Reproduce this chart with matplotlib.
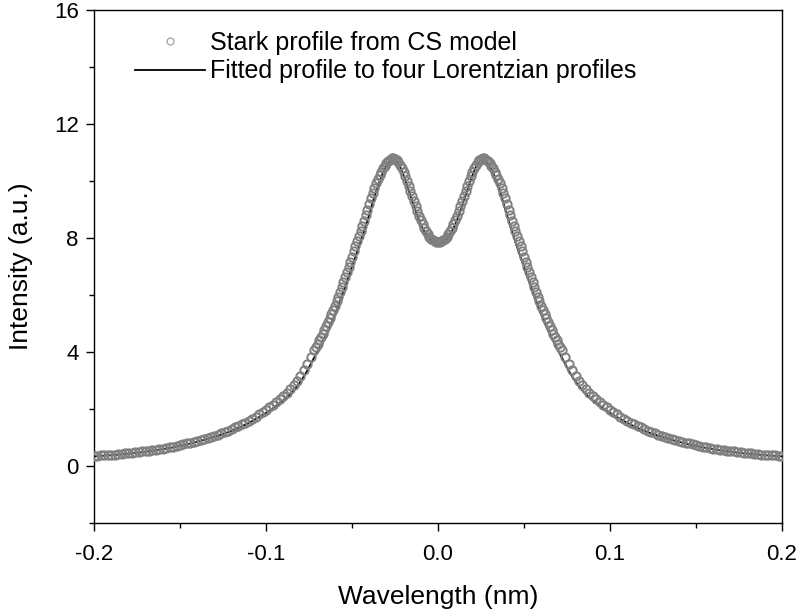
import numpy as np
import matplotlib
matplotlib.use("Agg")
import matplotlib.pyplot as plt
from matplotlib.ticker import MultipleLocator

plt.rcParams['font.family'] = ['Liberation Sans', 'DejaVu Sans']

# --- data (Stark profile, CS model) ---
wavelength = [
    -0.200, -0.198, -0.196, -0.194, -0.192, -0.190, -0.188, -0.186, -0.184, -0.182,
    -0.180, -0.178, -0.176, -0.174, -0.172, -0.170, -0.168, -0.166, -0.164, -0.162,
    -0.160, -0.158, -0.156, -0.154, -0.152, -0.150, -0.148, -0.146, -0.144, -0.142,
    -0.140, -0.138, -0.136, -0.134, -0.132, -0.130, -0.128, -0.126, -0.124, -0.122,
    -0.120, -0.118, -0.116, -0.114, -0.112, -0.110, -0.108, -0.106, -0.104, -0.102,
    -0.100, -0.098, -0.096, -0.094, -0.092, -0.090, -0.088, -0.086, -0.084, -0.082,
    -0.080, -0.078, -0.076, -0.074,
    -0.072, -0.071, -0.070, -0.069, -0.068, -0.067, -0.066, -0.065, -0.064, -0.063,
    -0.062, -0.061, -0.060, -0.059, -0.058, -0.057, -0.056, -0.055, -0.054, -0.053,
    -0.052, -0.051, -0.050, -0.049, -0.048, -0.047, -0.046, -0.045, -0.044, -0.043,
    -0.042, -0.041, -0.040, -0.039, -0.038, -0.037, -0.036, -0.035, -0.034, -0.033,
    -0.032, -0.031, -0.030, -0.029, -0.028, -0.027, -0.026, -0.025, -0.024, -0.023,
    -0.022, -0.021, -0.020, -0.019, -0.018, -0.017, -0.016, -0.015, -0.014, -0.013,
    -0.012, -0.011, -0.010, -0.009, -0.008, -0.007, -0.006, -0.005, -0.004, -0.003,
    -0.002, -0.001,
    0.000, 0.001, 0.002, 0.003, 0.004, 0.005, 0.006, 0.007, 0.008, 0.009,
    0.010, 0.011, 0.012, 0.013, 0.014, 0.015, 0.016, 0.017, 0.018, 0.019,
    0.020, 0.021, 0.022, 0.023, 0.024, 0.025, 0.026, 0.027, 0.028, 0.029,
    0.030, 0.031, 0.032, 0.033, 0.034, 0.035, 0.036, 0.037, 0.038, 0.039,
    0.040, 0.041, 0.042, 0.043, 0.044, 0.045, 0.046, 0.047, 0.048, 0.049,
    0.050, 0.051, 0.052, 0.053, 0.054, 0.055, 0.056, 0.057, 0.058, 0.059,
    0.060, 0.061, 0.062, 0.063, 0.064, 0.065, 0.066, 0.067, 0.068, 0.069,
    0.070, 0.071, 0.072,
    0.074, 0.076, 0.078, 0.080, 0.082, 0.084, 0.086, 0.088, 0.090, 0.092,
    0.094, 0.096, 0.098, 0.100, 0.102, 0.104, 0.106, 0.108, 0.110, 0.112,
    0.114, 0.116, 0.118, 0.120, 0.122, 0.124, 0.126, 0.128, 0.130, 0.132,
    0.134, 0.136, 0.138, 0.140, 0.142, 0.144, 0.146, 0.148, 0.150, 0.152,
    0.154, 0.156, 0.158, 0.160, 0.162, 0.164, 0.166, 0.168, 0.170, 0.172,
    0.174, 0.176, 0.178, 0.180, 0.182, 0.184, 0.186, 0.188, 0.190, 0.192,
    0.194, 0.196, 0.198, 0.200,
]
intensity_cs = [
    0.36, 0.37, 0.38, 0.38, 0.39, 0.40, 0.41, 0.43, 0.44, 0.45,
    0.46, 0.47, 0.49, 0.50, 0.52, 0.53, 0.55, 0.57, 0.58, 0.60,
    0.62, 0.64, 0.67, 0.69, 0.71, 0.74, 0.77, 0.80, 0.83, 0.86,
    0.89, 0.92, 0.96, 0.99, 1.03, 1.07, 1.11, 1.16, 1.20, 1.25,
    1.30, 1.36, 1.41, 1.47, 1.53, 1.60, 1.67, 1.74, 1.82, 1.90,
    1.98, 2.07, 2.16, 2.26, 2.36, 2.46, 2.58, 2.70, 2.84, 3.00,
    3.17, 3.37, 3.58, 3.82,
    4.06, 4.17, 4.29, 4.41, 4.53, 4.65, 4.78, 4.91, 5.04, 5.18,
    5.33, 5.48, 5.63, 5.79, 5.95, 6.12, 6.29, 6.46, 6.63, 6.81,
    6.99, 7.17, 7.35, 7.53, 7.71, 7.88, 8.06, 8.24, 8.43, 8.61,
    8.80, 9.00, 9.19, 9.39, 9.58, 9.76, 9.92, 10.07, 10.20, 10.33,
    10.44, 10.54, 10.63, 10.70, 10.75, 10.79, 10.80, 10.78, 10.74, 10.67,
    10.57, 10.46, 10.32, 10.17, 10.01, 9.83, 9.66, 9.49, 9.31, 9.13,
    8.95, 8.78, 8.62, 8.48, 8.35, 8.23, 8.13, 8.05, 7.98, 7.92,
    7.88, 7.86,
    7.85, 7.86, 7.88, 7.92, 7.98, 8.05, 8.13, 8.23, 8.35, 8.48,
    8.62, 8.78, 8.95, 9.13, 9.31, 9.49, 9.66, 9.83, 10.01, 10.17,
    10.32, 10.46, 10.57, 10.67, 10.74, 10.78, 10.80, 10.79, 10.75, 10.70,
    10.63, 10.54, 10.44, 10.33, 10.20, 10.07, 9.92, 9.76, 9.58, 9.39,
    9.19, 9.00, 8.80, 8.61, 8.43, 8.24, 8.06, 7.88, 7.71, 7.53,
    7.35, 7.17, 6.99, 6.81, 6.63, 6.46, 6.29, 6.12, 5.95, 5.79,
    5.63, 5.48, 5.33, 5.18, 5.04, 4.91, 4.78, 4.65, 4.53, 4.41,
    4.29, 4.17, 4.06,
    3.82, 3.58, 3.37, 3.17, 3.00, 2.84, 2.70, 2.58, 2.46, 2.36,
    2.26, 2.16, 2.07, 1.98, 1.90, 1.82, 1.74, 1.67, 1.60, 1.53,
    1.47, 1.41, 1.36, 1.30, 1.25, 1.20, 1.16, 1.11, 1.07, 1.03,
    0.99, 0.96, 0.92, 0.89, 0.86, 0.83, 0.80, 0.77, 0.74, 0.71,
    0.69, 0.67, 0.64, 0.62, 0.60, 0.58, 0.57, 0.55, 0.53, 0.52,
    0.50, 0.49, 0.47, 0.46, 0.45, 0.44, 0.43, 0.41, 0.40, 0.39,
    0.38, 0.38, 0.37, 0.36,
]

# fitted curve (sum of four Lorentzians)
fit_wavelength = [
    -0.200, -0.195, -0.190, -0.185, -0.180, -0.175, -0.170, -0.165, -0.160, -0.155,
    -0.150, -0.145, -0.140, -0.135, -0.130, -0.125, -0.120, -0.115, -0.110, -0.105,
    -0.100, -0.098, -0.096, -0.094, -0.092, -0.090, -0.088, -0.086, -0.084, -0.082,
    -0.080, -0.078, -0.076, -0.074, -0.072, -0.070, -0.068, -0.066, -0.064, -0.062,
    -0.060, -0.058, -0.056, -0.054, -0.052, -0.050, -0.048, -0.046, -0.044, -0.042,
    -0.040, -0.038, -0.036, -0.034, -0.032, -0.030, -0.028, -0.026, -0.024, -0.022,
    -0.020, -0.018, -0.016, -0.014, -0.012, -0.010, -0.008, -0.006, -0.004, -0.002,
    0.000, 0.002, 0.004, 0.006, 0.008, 0.010, 0.012, 0.014, 0.016, 0.018,
    0.020, 0.022, 0.024, 0.026, 0.028, 0.030, 0.032, 0.034, 0.036, 0.038,
    0.040, 0.042, 0.044, 0.046, 0.048, 0.050, 0.052, 0.054, 0.056, 0.058,
    0.060, 0.062, 0.064, 0.066, 0.068, 0.070, 0.072, 0.074, 0.076, 0.078,
    0.080, 0.082, 0.084, 0.086, 0.088, 0.090, 0.092, 0.094, 0.096, 0.098,
    0.100, 0.105, 0.110, 0.115, 0.120, 0.125, 0.130, 0.135, 0.140, 0.145,
    0.150, 0.155, 0.160, 0.165, 0.170, 0.175, 0.180, 0.185, 0.190, 0.195,
    0.200,
]
fit_intensity = [
    0.345, 0.365, 0.39, 0.41, 0.44, 0.47, 0.51, 0.55, 0.60, 0.65,
    0.71, 0.78, 0.86, 0.94, 1.03, 1.13, 1.24, 1.37, 1.52, 1.69,
    1.87, 1.95, 2.03, 2.12, 2.21, 2.30, 2.41, 2.52, 2.65, 2.80,
    2.96, 3.15, 3.35, 3.58, 3.81, 4.03, 4.26, 4.50, 4.75, 5.03,
    5.32, 5.63, 5.96, 6.29, 6.64, 6.99, 7.34, 7.68, 8.05, 8.42,
    8.82, 9.24, 9.63, 9.98, 10.29, 10.54, 10.70, 10.76, 10.69, 10.49,
    10.20, 9.85, 9.48, 9.13, 8.78, 8.47, 8.23, 8.04, 7.91, 7.82,
    7.79, 7.82, 7.91, 8.04, 8.23, 8.47, 8.78, 9.13, 9.48, 9.85,
    10.20, 10.49, 10.69, 10.76, 10.70, 10.54, 10.29, 9.98, 9.63, 9.24,
    8.82, 8.42, 8.05, 7.68, 7.34, 6.99, 6.64, 6.29, 5.96, 5.63,
    5.32, 5.03, 4.75, 4.50, 4.26, 4.03, 3.81, 3.58, 3.35, 3.15,
    2.96, 2.80, 2.65, 2.52, 2.41, 2.30, 2.21, 2.12, 2.03, 1.95,
    1.87, 1.69, 1.52, 1.37, 1.24, 1.13, 1.03, 0.94, 0.86, 0.78,
    0.71, 0.65, 0.60, 0.55, 0.51, 0.47, 0.44, 0.41, 0.39, 0.365,
    0.345,
]

x_ticks = [-0.2, -0.1, 0.0, 0.1, 0.2]
x_tick_labels = ['-0.2', '-0.1', '0.0', '0.1', '0.2']
y_ticks = [0, 4, 8, 12, 16]

label_cs = 'Stark profile from CS model'
label_fit = 'Fitted profile to four Lorentzian profiles'


def plot_stark_profile():
    fig = plt.figure(figsize=(8.0, 6.16), dpi=100)
    ax = fig.add_axes([0.1175, 0.1505, 0.86, 0.8335])

    # 丸マーカー（CSモデル）
    ax.plot(wavelength, intensity_cs, linestyle='none', marker='o',
            markersize=6.0, markerfacecolor='none', markeredgecolor='#808080',
            markeredgewidth=1.4, label=label_cs, zorder=3)
    # フィット曲線
    ax.plot(fit_wavelength, fit_intensity, color='black', linewidth=1.3,
            label=label_fit, zorder=2)

    ax.set_xlim(-0.2, 0.2)
    ax.set_ylim(-2, 16)
    ax.set_xticks(x_ticks)
    ax.set_xticklabels(x_tick_labels)
    ax.set_yticks(y_ticks)
    ax.xaxis.set_minor_locator(MultipleLocator(0.05))
    ax.yaxis.set_minor_locator(MultipleLocator(2))
    ax.tick_params(which='major', direction='out', length=6, width=1.0,
                   labelsize=16, colors='black')
    ax.tick_params(axis='x', which='major', pad=9)
    ax.tick_params(axis='y', which='major', pad=5)
    ax.tick_params(which='minor', direction='out', length=3.5, width=1.0)
    for sp in ax.spines.values():
        sp.set_linewidth(1.0)

    ax.set_xlabel('Wavelength (nm)', fontsize=19, labelpad=14)
    ax.set_ylabel('Intensity (a.u.)', fontsize=19, labelpad=15)

    leg = ax.legend(loc='upper left', bbox_to_anchor=(0.0596, 0.959), frameon=False,
                    fontsize=18, handlelength=2.8, handletextpad=0.2,
                    labelspacing=0.18, borderpad=0, borderaxespad=0)
    leg.legend_handles[0].set_markersize(5.0)
    leg.legend_handles[0].set_markeredgewidth(0.9)
    leg.legend_handles[0].set_markeredgecolor('#a0a0a0')

    fig.savefig('out.png', dpi=100)


if __name__ == "__main__":
    plot_stark_profile()
